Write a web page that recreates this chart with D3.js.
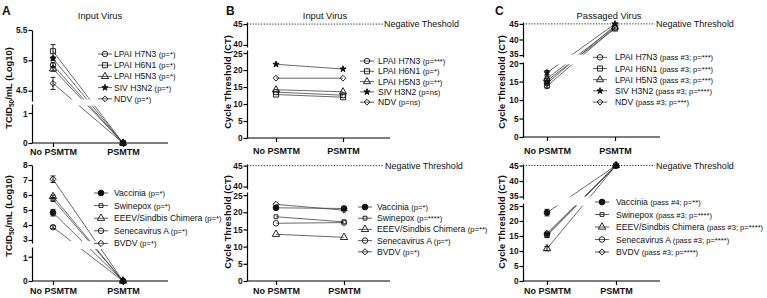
<!DOCTYPE html>
<html>
<head>
<meta charset="utf-8">
<script src="https://cdn.jsdelivr.net/npm/d3@7"></script>
<style>
  body { margin: 0; background: #fff; }
  svg { font-family: "Liberation Sans", Arial, sans-serif; }
</style>
</head>
<body>
<div id="chart"></div>
<script>
const categories = ["No PSMTM", "PSMTM"];

const topNames = ["LPAI H7N3", "LPAI H6N1", "LPAI H5N3", "SIV H3N2", "NDV"];
const botNames = ["Vaccinia", "Swinepox", "EEEV/Sindbis Chimera", "Senecavirus A", "BVDV"];

// A - input virus titre (TCID50/mL, log10)
const aTopP = ["(p=*)", "(p=*)", "(p=*)", "(p=*)", "(p=*)"];
const aTopNo = [4.92, 5.15, 4.86, 5.03, 4.62];
const aTopNoErr = [0.04, 0.11, 0.04, 0.03, 0.1];
const aTopPs = [0, 0, 0, 0, 0];

const aBotP = ["(p=*)", "(p=*)", "(p=*)", "(p=*)", "(p=*)"];
const aBotNo = [4.82, 5.7, 5.9, 3.85, 7.05];
const aBotNoErr = [0.22, 0.1, 0.1, 0.1, 0.22];
const aBotPs = [0, 0, 0, 0, 0];

// B - input virus, cycle threshold
const bTopP = ["(p=***)", "(p=*)", "(p=**)", "(p=ns)", "(p=ns)"];
const bTopNo = [13.5, 12.8, 14.2, 21.7, 17.6];
const bTopPs = [12.6, 12.0, 13.6, 20.3, 17.6];

const bBotP = ["(p=*)", "(p=****)", "(p=**)", "(p=*)", "(p=*)"];
const bBotNo = [21.3, 18.7, 13.6, 16.8, 22.3];
const bBotPs = [21.1, 17.2, 12.7, 17.0, 20.6];

// C - passaged virus, cycle threshold
const cTopP = ["(pass #3; p=***)", "(pass #3; p=***)", "(pass #3; p=***)", "(pass #3; p=****)", "(pass #3; p=***)"];
const cTopNo = [13.8, 15.2, 15.8, 17.4, 14.5];
const cTopNoErr = [0.5, 0.5, 0.5, 0.6, 0.5];
const cTopPs = [43.8, 43.5, 44.0, 45.0, 44.5];

const cBotP = ["(pass #4; p=**)", "(pass #3; p=****)", "(pass #3; p=****)", "(pass #3; p=****)", "(pass #3; p=****)"];
const cBotNo = [22.8, 15.1, 10.8, 15.5, 15.9];
const cBotNoErr = [1.1, 0.6, 0.7, 0.4, 0.4];
const cBotPs = [45, 45, 45, 45, 45];

const negThreshold = 45;

const width = 767, height = 298;
const svg = d3.select("#chart").append("svg")
  .attr("width", width).attr("height", height)
  .attr("viewBox", [0, 0, width, height]);

// symbols: [type, filled, size, rotate]
const topSym = [
  [d3.symbolCircle, false, 24, 0],
  [d3.symbolSquare, false, 26, 0],
  [d3.symbolTriangle, false, 22, 0],
  [d3.symbolStar, true, 12, 0],
  [d3.symbolSquare, false, 17, 45]
];
const botSym = [
  [d3.symbolCircle, true, 26, 0],
  [d3.symbolSquare, false, 15, 0],
  [d3.symbolTriangle, false, 24, 0],
  [d3.symbolCircle, false, 24, 0],
  [d3.symbolSquare, false, 19, 45]
];

function marker(g, s, x, y) {
  g.append("path")
    .attr("d", d3.symbol().type(s[0]).size(s[2])())
    .attr("transform", `translate(${x},${y}) rotate(${s[3]})`)
    .attr("fill", s[1] ? "#111" : "none")
    .attr("stroke", "#111")
    .attr("stroke-width", 0.9);
}

let clipId = 0;
function panel(c) {
  const g = svg.append("g");
  const [s0, s1] = c.segs;
  const y = d3.scaleLinear()
    .domain([s0.d[0], s0.d[1], s1.d[0], s1.d[1]])
    .range([s0.r[0], s0.r[1], s1.r[0], s1.r[1]]);
  const x = d3.scaleOrdinal(categories, [c.xNo, c.xPs]);

  // y axis, two segments; nudge the labels either side of the break apart
  c.segs.forEach((s, k) => {
    const sc = d3.scaleLinear().domain(s.d).range(s.r);
    const ax = g.append("g")
      .attr("transform", `translate(${c.axisX},0)`)
      .call(d3.axisLeft(sc).tickValues(s.t).tickFormat(d => String(d))
        .tickSize(3.5).tickSizeOuter(0).tickPadding(1));
    ax.select(".domain").attr("stroke-width", 1.2);
    ax.selectAll(".tick line").attr("stroke-width", 1.2);
    const edge = k === 0 ? d3.max(s.t) : d3.min(s.t);
    ax.selectAll("text").attr("font-size", 8.3).attr("font-weight", "bold")
      .attr("font-family", "Liberation Sans, Arial, sans-serif").attr("fill", "#111")
      .attr("y", d => d === edge ? (k === 0 ? 1 : -1) : 0);
  });

  // x axis
  const y0 = y(0);
  g.append("line").attr("x1", c.axisX).attr("x2", c.xEnd).attr("y1", y0).attr("y2", y0)
    .attr("stroke", "#000").attr("stroke-width", 1.2);
  const xa = g.append("g").attr("transform", `translate(0,${y0})`)
    .call(d3.axisBottom(x).tickSize(4).tickSizeOuter(0));
  xa.select(".domain").remove();
  xa.selectAll(".tick line").attr("stroke-width", 1.2);
  xa.selectAll("text").attr("font-size", 9).attr("font-weight", "bold")
    .attr("font-family", "Liberation Sans, Arial, sans-serif").attr("fill", "#111")
    .attr("y", c.labelBase - y0).attr("dy", 0);

  // threshold
  if (c.threshold) {
    const ty = y(negThreshold);
    g.append("line").attr("x1", c.axisX).attr("x2", c.thrEnd).attr("y1", ty).attr("y2", ty)
      .attr("stroke", "#333").attr("stroke-width", 1).attr("stroke-dasharray", "1.3,1.5");
    g.append("text").attr("x", c.thrEnd + 1).attr("y", ty + 3.2)
      .attr("font-size", 9).attr("fill", "#111").text(c.threshold);
  }

  // title
  if (c.title) {
    g.append("text").attr("x", c.title[1]).attr("y", 19).attr("text-anchor", "middle")
      .attr("font-size", 9.3).attr("fill", "#111").text(c.title[0]);
  }

  // y label
  const yl = g.append("text")
    .attr("transform", `translate(${c.ylab[0]},${c.ylab[1]}) rotate(-90)`)
    .attr("text-anchor", "middle").attr("font-size", 9.3).attr("font-weight", "bold").attr("fill", "#111");
  if (c.tcid) {
    yl.append("tspan").text("TCID");
    yl.append("tspan").attr("font-size", 6.5).attr("dy", 2.5).text("50");
    yl.append("tspan").attr("dy", -2.5).text("/mL  (Log10)");
  } else {
    yl.text("Cycle Threshold (CT)");
  }

  // lines, clipped around the axis break
  const id = "clip" + (clipId++);
  const cp = g.append("clipPath").attr("id", id);
  const pad = c.pad;
  cp.append("rect").attr("x", 0).attr("width", width).attr("y", 0).attr("height", s1.r[0] - pad);
  cp.append("rect").attr("x", 0).attr("width", width).attr("y", s0.r[1] + pad).attr("height", height);
  const lg = g.append("g").attr("clip-path", `url(#${id})`);
  c.no.forEach((v, i) => {
    lg.append("line")
      .attr("x1", x(categories[0])).attr("y1", y(v))
      .attr("x2", x(categories[1])).attr("y2", y(c.ps[i]))
      .attr("stroke", "#444").attr("stroke-width", 0.8);
  });

  // error bars
  if (c.err) {
    c.no.forEach((v, i) => {
      const xe = x(categories[0]), t = y(v + c.err[i]), b = y(v - c.err[i]);
      g.append("path").attr("d", `M${xe},${t}V${b}M${xe - 2.5},${t}H${xe + 2.5}M${xe - 2.5},${b}H${xe + 2.5}`)
        .attr("stroke", "#111").attr("stroke-width", 0.9).attr("fill", "none");
    });
  }

  // markers
  c.no.forEach((v, i) => {
    marker(g, c.sym[i], x(categories[0]), y(v));
    marker(g, c.sym[i], x(categories[1]), y(c.ps[i]));
  });

  // legend
  c.names.forEach((n, i) => {
    const ly = c.leg.y0 + i * c.leg.dy;
    g.append("line").attr("x1", c.leg.mx - 7).attr("x2", c.leg.mx + 7).attr("y1", ly).attr("y2", ly)
      .attr("stroke", "#333").attr("stroke-width", 0.8);
    marker(g, c.sym[i], c.leg.mx, ly);
    const t = g.append("text").attr("x", c.leg.tx).attr("y", ly + 3).attr("fill", "#111");
    t.append("tspan").attr("font-size", 8.6).text(n + " ");
    t.append("tspan").attr("font-size", 7.6).text(c.p[i]);
  });
}

// panel letters
[["A", 2], ["B", 226], ["C", 495]].forEach(([l, xx]) => {
  svg.append("text").attr("x", xx).attr("y", 15).attr("font-size", 12).attr("font-weight", "bold")
    .attr("fill", "#111").text(l);
});

panel({
  axisX: 32, xNo: 53, xPs: 123, xEnd: 168, labelBase: 155,
  segs: [{ d: [0, 1.3], r: [143, 104], t: [0, 1] }, { d: [4.33, 5.5], r: [101, 30], t: [4.5, 5, 5.5] }],
  title: ["Input Virus", 100], ylab: [11.5, 88], tcid: true, pad: 1.5,
  names: topNames, p: aTopP, no: aTopNo, ps: aTopPs, err: aTopNoErr, sym: topSym,
  leg: { mx: 105, tx: 114, y0: 54, dy: 11.2 }
});
panel({
  axisX: 32, xNo: 53, xPs: 123, xEnd: 168, labelBase: 294,
  segs: [{ d: [0, 1.4], r: [281, 247], t: [0, 1] }, { d: [2.8, 8], r: [243, 165], t: [3, 4, 5, 6, 7, 8] }],
  ylab: [11.5, 216], tcid: true, pad: 2,
  names: botNames, p: aBotP, no: aBotNo, ps: aBotPs, err: aBotNoErr, sym: botSym,
  leg: { mx: 101, tx: 114, y0: 193, dy: 12.6 }
});
panel({
  axisX: 247, xNo: 276, xPs: 343, xEnd: 390, labelBase: 154,
  segs: [{ d: [0, 25.9], r: [138, 50], t: [0, 5, 10, 15, 20, 25] }, { d: [39.5, 45.5], r: [47, 22], t: [40, 45] }],
  title: ["Input Virus", 325], ylab: [231, 82], pad: 1.5,
  threshold: "Negative Theshold", thrEnd: 383,
  names: topNames, p: bTopP, no: bTopNo, ps: bTopPs, sym: topSym,
  leg: { mx: 367, tx: 378, y0: 61, dy: 10.3 }
});
panel({
  axisX: 247, xNo: 276, xPs: 344, xEnd: 390, labelBase: 294,
  segs: [{ d: [0, 25.9], r: [281, 192], t: [0, 5, 10, 15, 20, 25] }, { d: [39.4, 45.4], r: [189, 164], t: [40, 45] }],
  ylab: [231, 222], pad: 1.5,
  threshold: "Negative Threshold", thrEnd: 384,
  names: botNames, p: bBotP, no: bBotNo, ps: bBotPs, sym: botSym,
  leg: { mx: 365, tx: 377, y0: 207, dy: 11.2 }
});
panel({
  axisX: 523, xNo: 547, xPs: 615, xEnd: 660, labelBase: 154,
  segs: [{ d: [0, 20.3], r: [137, 62], t: [0, 5, 10, 15, 20] }, { d: [34.4, 45.6], r: [57, 22], t: [35, 40, 45] }],
  title: ["Passaged  Virus", 609], ylab: [505, 82], pad: 2.5,
  threshold: "Negative Threshold", thrEnd: 655,
  names: topNames, p: cTopP, no: cTopNo, ps: cTopPs, err: cTopNoErr, sym: topSym,
  leg: { mx: 600, tx: 615, y0: 57.3, dy: 11.2 }
});
panel({
  axisX: 523, xNo: 547, xPs: 616, xEnd: 660, labelBase: 294,
  segs: [{ d: [0, 26], r: [281, 203], t: [0, 5, 10, 15, 20, 25] }, { d: [34.2, 45.5], r: [199, 164], t: [35, 40, 45] }],
  ylab: [505, 222], pad: 2.5,
  threshold: "Negative Threshold", thrEnd: 655,
  names: botNames, p: cBotP, no: cBotNo, ps: cBotPs, err: cBotNoErr, sym: botSym,
  leg: { mx: 602, tx: 616, y0: 202, dy: 12.5 }
});
</script>
</body>
</html>
